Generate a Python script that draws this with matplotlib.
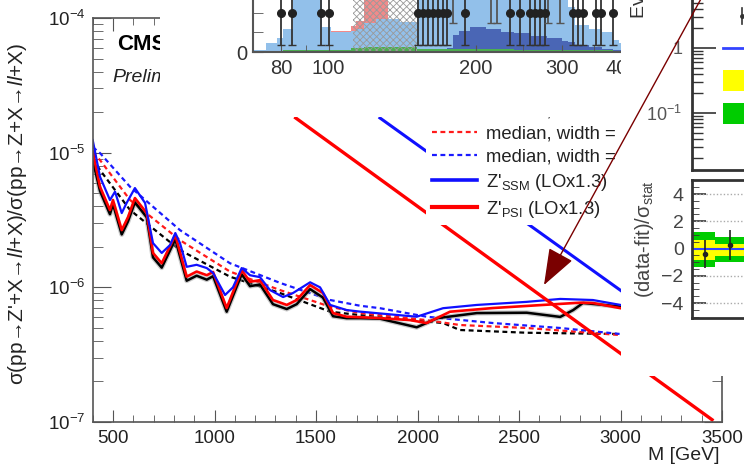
import numpy as np
import matplotlib
matplotlib.use('Agg')
import matplotlib.pyplot as plt
from matplotlib.patches import Rectangle, FancyArrowPatch
from matplotlib.lines import Line2D
from matplotlib.ticker import (LogLocator, MultipleLocator, FixedLocator,
                               NullFormatter, FixedFormatter, NullLocator)

plt.rcParams['font.family'] = ['Liberation Sans', 'DejaVu Sans']
plt.rcParams['mathtext.fontset'] = 'custom'
plt.rcParams['mathtext.rm'] = 'Liberation Sans'
plt.rcParams['mathtext.it'] = 'Liberation Sans:italic'
plt.rcParams['mathtext.bf'] = 'Liberation Sans:bold'
plt.rcParams['hatch.linewidth'] = 0.6

# ---------------- main panel data ----------------
M_obs_black = [400, 436, 485, 500, 543, 574, 608, 666, 697, 740, 807, 863, 912, 962, 993,
               1060, 1134, 1175, 1224, 1288, 1356, 1405, 1471, 1534, 1584, 1651, 1717, 1815,
               1996, 2100, 2292, 2538, 2703, 2767, 2815, 3000]
obs_black = [8.8e-6, 5.19e-6, 3.49e-6, 4.14e-6, 2.47e-6, 3.09e-6, 4.28e-6, 3.31e-6, 1.67e-6,
             1.40e-6, 2.27e-6, 1.12e-6, 1.22e-6, 1.14e-6, 1.21e-6, 6.59e-7, 1.25e-6, 1.02e-6,
             1.05e-6, 7.5e-7, 6.9e-7, 7.5e-7, 9.7e-7, 8.4e-7, 6.1e-7, 5.9e-7, 5.9e-7, 5.85e-7,
             5.05e-7, 5.91e-7, 6.44e-7, 6.48e-7, 6.03e-7, 6.78e-7, 7.65e-7, 7.2e-7]

M_obs_red = [400, 436, 485, 500, 543, 574, 608, 666, 697, 740, 807, 863, 912, 962, 993,
             1060, 1134, 1175, 1224, 1288, 1356, 1405, 1471, 1534, 1584, 1651, 1717, 1815,
             1963, 2045, 2160, 2372, 2618, 2800, 2864, 3000]
obs_red = [1.02e-5, 5.58e-6, 3.75e-6, 4.45e-6, 2.66e-6, 3.32e-6, 4.60e-6, 3.56e-6, 1.80e-6,
           1.51e-6, 2.44e-6, 1.20e-6, 1.31e-6, 1.23e-6, 1.30e-6, 7.02e-7, 1.34e-6, 1.10e-6,
           1.13e-6, 8.05e-7, 7.40e-7, 8.05e-7, 1.04e-6, 9.08e-7, 6.44e-7, 6.05e-7, 6.0e-7,
           5.91e-7, 5.71e-7, 5.43e-7, 6.59e-7, 7.02e-7, 7.40e-7, 7.69e-7, 7.65e-7, 7.0e-7]

M_obs_blue = [400, 436, 485, 510, 543, 567, 608, 658, 697, 740, 781, 807, 830, 863, 912, 962,
              993, 1052, 1091, 1134, 1175, 1224, 1273, 1338, 1387, 1471, 1520, 1570, 1651,
              1717, 1815, 1996, 2126, 2292, 2538, 2703, 2864, 3000]
obs_blue = [1.24e-5, 6.62e-6, 4.45e-6, 5.13e-6, 3.56e-6, 4.23e-6, 5.46e-6, 4.23e-6, 2.13e-6,
            1.80e-6, 2.06e-6, 2.53e-6, 2.13e-6, 1.42e-6, 1.47e-6, 1.39e-6, 1.28e-6, 8.77e-7,
            1.00e-6, 1.39e-6, 1.23e-6, 1.19e-6, 9.55e-7, 8.47e-7, 9.08e-7, 1.09e-6, 1.00e-6,
            7.40e-7, 6.78e-7, 6.6e-7, 6.4e-7, 6.05e-7, 7.0e-7, 7.4e-7, 7.8e-7, 8.2e-7,
            8.05e-7, 7.4e-7]

M_exp_black = [400, 436, 584, 830, 1076, 1322, 1570, 1717, 2126, 2209, 2538, 3000]
exp_black = [9.0e-6, 7.43e-6, 3.75e-6, 1.89e-6, 1.20e-6, 9.08e-7, 6.59e-7, 6.22e-7,
             5.43e-7, 4.82e-7, 4.60e-7, 4.50e-7]
M_exp_red = [400, 436, 584, 830, 1076, 1322, 1570, 1717, 2045, 2209, 2538, 3000]
exp_red = [1.0e-5, 8.81e-6, 4.45e-6, 2.24e-6, 1.31e-6, 9.55e-7, 7.18e-7, 6.44e-7,
           5.71e-7, 5.25e-7, 4.99e-7, 4.42e-7]
M_exp_blue = [400, 436, 584, 830, 1076, 1322, 1570, 1717, 1815, 2045, 2372, 2703, 3000]
exp_blue = [1.1e-5, 9.93e-6, 5.58e-6, 2.66e-6, 1.51e-6, 1.08e-6, 8.05e-7, 7.3e-7, 7.0e-7,
            6.05e-7, 5.43e-7, 4.99e-7, 4.50e-7]

M_psi = [1400, 2400, 3451]
xs_psi = [1.81e-5, 1.46e-6, 1.04e-7]
M_ssm = [1815, 3013]
xs_ssm = [1.81e-5, 9.2e-7]

legend_labels = ['median, width = 3%', 'median, width = 5%', 'median, width = 10%',
                 "Z'$_{\\mathregular{SSM}}$ (LOx1.3)", "Z'$_{\\mathregular{PSI}}$ (LOx1.3)"]

# ---------------- top inset (mass spectrum) data ----------------
inset_edges = [70, 74.6, 78.5, 80.5, 84.5, 97, 101, 111, 114, 118, 125, 132, 140, 152, 175,
               180, 185, 195, 210, 225, 240, 260, 280, 300, 309, 319, 341, 363, 383, 393, 420]
inset_lightblue = [0.1, 0.45, 0.7, 1.2, 3.5, 1.3, 1.0, 1.1, 1.2, 1.5, 1.7, 1.7, 1.55, 3.5,
                   3.5, 3.5, 3.5, 3.5, 3.5, 3.5, 3.5, 3.5, 3.5, 3.5, 2.3, 1.4, 1.2, 1.0, 0.6, 0.45]
inset_pink = [0, 0, 0, 0, 0, 0, 1.1, 1.35, 1.6, 3.5, 3.5, 0, 0, 0, 0,
              0, 0, 0, 0, 0, 0, 0, 0, 0, 0, 0, 0, 0, 0, 0]
inset_darkblue = [0, 0, 0, 0, 0, 0, 0, 0, 0, 0, 0, 0, 0, 0, 0.2,
                  0.87, 1.1, 1.3, 1.2, 1.05, 0.95, 0.8, 0.7, 0.55, 0.5, 0.38, 0.25, 0.15, 0.1, 0.08]
inset_green = [0.05, 0.05, 0.05, 0.08, 0.1, 0.1, 0.12, 0.2, 0.22, 0.25, 0.25, 0.25, 0.25, 0.15,
               0.15, 0.15, 0.15, 0.15, 0.15, 0.15, 0.12, 0.12, 0.1, 0.1, 0.1, 0.1, 0.08, 0.08, 0.06, 0.05]
hatch_range = [112, 152]
data_x_low = [79.8, 84, 96.3, 100, 152.7, 156.3, 160, 163.8, 167.7, 171.7, 175, 190.4, 235,
              246.5, 258.3, 264.5, 270.9, 277.3, 316.7, 324.2, 331.9, 353.4, 361.9, 382.2]
data_y_low = [2.0] * len(data_x_low)
data_x_high = [180, 215, 221, 281, 297]
data_y_high = [3.5] * len(data_x_high)
inset_xticks = [80, 100, 200, 300, 400]

# ---------------- right panels data ----------------
ratio_edges = [0, 1, 4.7]
ratio_green_up = [1.2, 0.85]
ratio_green_dn = [-1.37, -0.98]
ratio_yellow_up = [0.6, 0.35]
ratio_yellow_dn = [-0.85, -0.55]
ratio_x = [0.57, 1.65]
ratio_y = [-0.4, 0.25]
ratio_err = [1.0, 1.1]

# ---------------- layout helpers ----------------
W, H = 744, 469
fig = plt.figure(figsize=(W / 100, H / 100), dpi=100)


def fx(px):
    return px / W


def fy(py):
    return 1 - py / H


def box(x0, y0, x1, y1):
    return [fx(x0), fy(y1), (x1 - x0) / W, (y1 - y0) / H]


GRAY = '#555555'

# ================= main axes =================
ax = fig.add_axes(box(92.7, 18, 722, 422), zorder=0)
ax.set_xlim(400, 3500)
ax.set_yscale('log')
ax.set_ylim(1e-7, 1e-4)

dash = (0, (2.2, 1.6))
ax.plot(M_exp_black, exp_black, color='black', lw=1.6, ls=dash)
ax.plot(M_exp_red, exp_red, color='#ff1a1a', lw=1.6, ls=dash)
ax.plot(M_exp_blue, exp_blue, color='#1a1aff', lw=1.6, ls=dash)
ax.plot(M_obs_black, obs_black, color='0.6', lw=3.6, alpha=0.5, solid_capstyle='round')
ax.plot(M_obs_black, obs_black, color='black', lw=1.8)
ax.plot(M_obs_red, obs_red, color='#ff0000', lw=1.9)
ax.plot(M_obs_blue, obs_blue, color='#1010ff', lw=1.6)
ax.plot(M_psi, xs_psi, color='#ff0000', lw=2.4)
ax.plot(M_ssm, xs_ssm, color='#1010ff', lw=2.2)

ax.xaxis.set_major_locator(MultipleLocator(500))
ax.xaxis.set_minor_locator(MultipleLocator(100))
ax.yaxis.set_major_locator(LogLocator(base=10, numticks=10))
ax.yaxis.set_minor_locator(LogLocator(base=10, subs=np.arange(2, 10), numticks=20))
ax.yaxis.set_minor_formatter(NullFormatter())
ax.tick_params(which='both', direction='in', top=True, right=True, colors=GRAY,
               labelcolor='#222222', labelsize=13.5)
ax.tick_params(axis='y', which='major', length=13, pad=5)
ax.tick_params(axis='y', which='minor', length=7)
ax.tick_params(axis='x', which='major', length=9, pad=6)
ax.tick_params(axis='x', which='minor', length=5)
for s in ax.spines.values():
    s.set_color(GRAY)
    s.set_linewidth(1.2)

handles = [Line2D([], [], color='black', lw=1.6, ls=dash),
           Line2D([], [], color='#ff1a1a', lw=1.6, ls=dash),
           Line2D([], [], color='#1a1aff', lw=1.6, ls=dash),
           Line2D([], [], color='#1010ff', lw=2.6),
           Line2D([], [], color='#ff0000', lw=3.0)]
leg = ax.legend(handles, legend_labels, loc='upper left',
                bbox_to_anchor=(fx(426), fy(97)), bbox_transform=fig.transFigure,
                fontsize=13.3, frameon=True, fancybox=False, framealpha=1,
                edgecolor='none', facecolor='white', borderpad=0.3, labelspacing=0.33,
                handlelength=2.45, handletextpad=0.5, borderaxespad=0)
for t in leg.get_texts():
    t.set_color('#222222')

fig.text(fx(117), fy(44), 'CMS', fontsize=16, fontweight='bold', ha='left', va='center',
         zorder=0.5)
fig.text(fx(112), fy(77), 'Preliminary', fontsize=14, fontstyle='italic', ha='left',
         va='center', color='#222222', zorder=0.5)
fig.text(fx(18), fy(214), "σ(pp→Z'+X→$\\mathit{ll}$+X)/σ(pp→Z+X→$\\mathit{ll}$+X)",
         rotation=90, ha='center', va='center', fontsize=15, color='#222222')
fig.text(fx(720), fy(455), 'M [GeV]', ha='right', va='center', fontsize=14, color='#222222')

# ================= top mask + inset =================
fig.add_artist(Rectangle((fx(160), fy(117)), fx(621) - fx(160), 117 / H,
                         transform=fig.transFigure, facecolor='white', edgecolor='none',
                         zorder=1))

ins = fig.add_axes(box(253, 52 - 58.5, 633, 52), zorder=2)
ins.set_xscale('log')
ins.set_xlim(70, 420)
ins.set_ylim(0, 3.0)
ins.stairs(inset_pink, inset_edges, fill=True, color='#f28a8a', lw=0)
ins.stairs(inset_lightblue, inset_edges, fill=True, color='#92c0ea', lw=0)
ins.stairs(inset_darkblue, inset_edges, fill=True, color='#4a66b5', lw=0)
ins.stairs(inset_green, inset_edges, fill=True, color='#4caf50', lw=0)
ins.axvspan(hatch_range[0], hatch_range[1], facecolor='none', edgecolor='#9a9a9a',
            hatch='xxxxx', lw=0)
ins.errorbar(data_x_low, data_y_low, yerr=[[1.64] * len(data_x_low), [2.0] * len(data_x_low)],
             fmt='o', color='#222222', ms=5.5, elinewidth=1.3, capsize=3, ecolor='#333333')
ins.errorbar(data_x_high, data_y_high, yerr=[[2.0] * len(data_x_high), [2.0] * len(data_x_high)],
             fmt='o', color='#222222', ms=5.5, elinewidth=1.3, capsize=3, ecolor='#555555')
ins.xaxis.set_major_locator(FixedLocator(inset_xticks))
ins.xaxis.set_major_formatter(FixedFormatter([str(v) for v in inset_xticks]))
ins.xaxis.set_minor_locator(FixedLocator([70, 90, 150, 250, 350]))
ins.xaxis.set_minor_formatter(NullFormatter())
ins.yaxis.set_major_locator(FixedLocator([0, 3]))
ins.yaxis.set_major_formatter(FixedFormatter(['0', '']))
ins.yaxis.set_minor_locator(FixedLocator([1, 2]))
ins.tick_params(which='both', direction='in', colors=GRAY, labelcolor='#333333',
                labelsize=14.5)
ins.tick_params(axis='x', which='both', length=5, pad=5)
ins.tick_params(axis='y', which='both', length=7, pad=4)
ins.spines['top'].set_visible(False)
ins.spines['right'].set_visible(False)
for s in ['left', 'bottom']:
    ins.spines[s].set_color(GRAY)
    ins.spines[s].set_linewidth(1.5)

# ================= right mask + panels =================
fig.add_artist(Rectangle((fx(621), fy(376)), 1 - fx(621) + 0.01, 376 / H + 0.01,
                         transform=fig.transFigure, facecolor='white', edgecolor='none',
                         zorder=3))

up = fig.add_axes(box(692, -10, 800, 170), zorder=4)
up.set_facecolor('none')
up.set_yscale('log')
up.set_ylim(10 ** -1.877, 10 ** 0.892)
up.set_xlim(0, 1)
up.xaxis.set_major_locator(NullLocator())
up.yaxis.set_major_locator(FixedLocator([0.1, 1]))
up.yaxis.set_major_formatter(FixedFormatter(['$\\mathregular{10^{-1}}$', '1']))
up.yaxis.set_minor_locator(LogLocator(base=10, subs=np.arange(2, 10), numticks=20))
up.yaxis.set_minor_formatter(NullFormatter())
up.tick_params(axis='y', which='major', direction='in', length=17, width=1.2, pad=7,
               colors='#333333', labelcolor='#555555', labelsize=13)
up.tick_params(axis='y', which='minor', direction='in', length=8, width=1.0, colors='#333333')
up.spines['top'].set_visible(False)
up.spines['right'].set_visible(False)
for s in ['left', 'bottom']:
    up.spines[s].set_color('#333333')
    up.spines[s].set_linewidth(2)

fig.text(fx(640), fy(18), 'Events / GeV', rotation=90, ha='center', va='bottom',
         fontsize=14, color='#333333', zorder=5)
fig.add_artist(Line2D([fx(742), fx(742)], [fy(8), fy(24)], color='#333333', lw=1.2, zorder=5))
fig.add_artist(Line2D([fx(742)], [fy(16)], marker='o', ms=2.5, color='#333333', zorder=5))
fig.add_artist(Line2D([fx(723), fx(746)], [fy(48), fy(48)], color='#3344ff', lw=2, zorder=5))
fig.add_artist(Rectangle((fx(723), fy(91)), 30 / W, 21 / H, transform=fig.transFigure,
                         facecolor='#ffff00', edgecolor='none', zorder=5))
fig.add_artist(Rectangle((fx(723), fy(124)), 30 / W, 21 / H, transform=fig.transFigure,
                         facecolor='#00cc00', edgecolor='none', zorder=5))

rat = fig.add_axes(box(692, 180, 800, 318), zorder=4)
rat.set_facecolor('none')
rat.set_xlim(0, 4.7)
rat.set_ylim(-5.1, 5.03)
rat.stairs(ratio_green_up, ratio_edges, baseline=ratio_green_dn, fill=True,
           color='#00cc00', lw=0)
rat.stairs(ratio_yellow_up, ratio_edges, baseline=ratio_yellow_dn, fill=True,
           color='#ffff00', lw=0)
for yv in [-4, -2, 2, 4]:
    rat.axhline(yv, color='#aaaaaa', lw=1, ls=(0, (1, 1.5)))
rat.axhline(0, color='#3344ff', lw=1.5)
rat.errorbar(ratio_x, ratio_y, yerr=ratio_err, fmt='o', color='#222222', ms=3,
             elinewidth=1.2, capsize=0)
rat.xaxis.set_major_locator(NullLocator())
rat.yaxis.set_major_locator(FixedLocator([-4, -2, 0, 2, 4]))
rat.yaxis.set_minor_locator(MultipleLocator(0.5))
rat.tick_params(axis='y', which='major', direction='in', length=10, width=1.2, pad=6,
                colors='#333333', labelcolor='#444444', labelsize=14)
rat.tick_params(axis='y', which='minor', direction='in', length=5, colors='#333333')
rat.spines['right'].set_visible(False)
for s in ['left', 'bottom', 'top']:
    rat.spines[s].set_color('#333333')
    rat.spines[s].set_linewidth(2)
fig.text(fx(644), fy(239), '(data-fit)/σ$_{\\mathregular{stat}}$', rotation=90, ha='center',
         va='center', fontsize=14.5, color='#444444', zorder=5)

# ================= arrow =================
arr = FancyArrowPatch((fx(702), fy(-3)), (fx(544), fy(285)), transform=fig.transFigure,
                      arrowstyle='-|>,head_length=23,head_width=8.5', mutation_scale=1,
                      color='#7a0000', lw=1.0, shrinkA=0, shrinkB=0, zorder=10)
fig.add_artist(arr)

fig.savefig('out.png', dpi=100)
